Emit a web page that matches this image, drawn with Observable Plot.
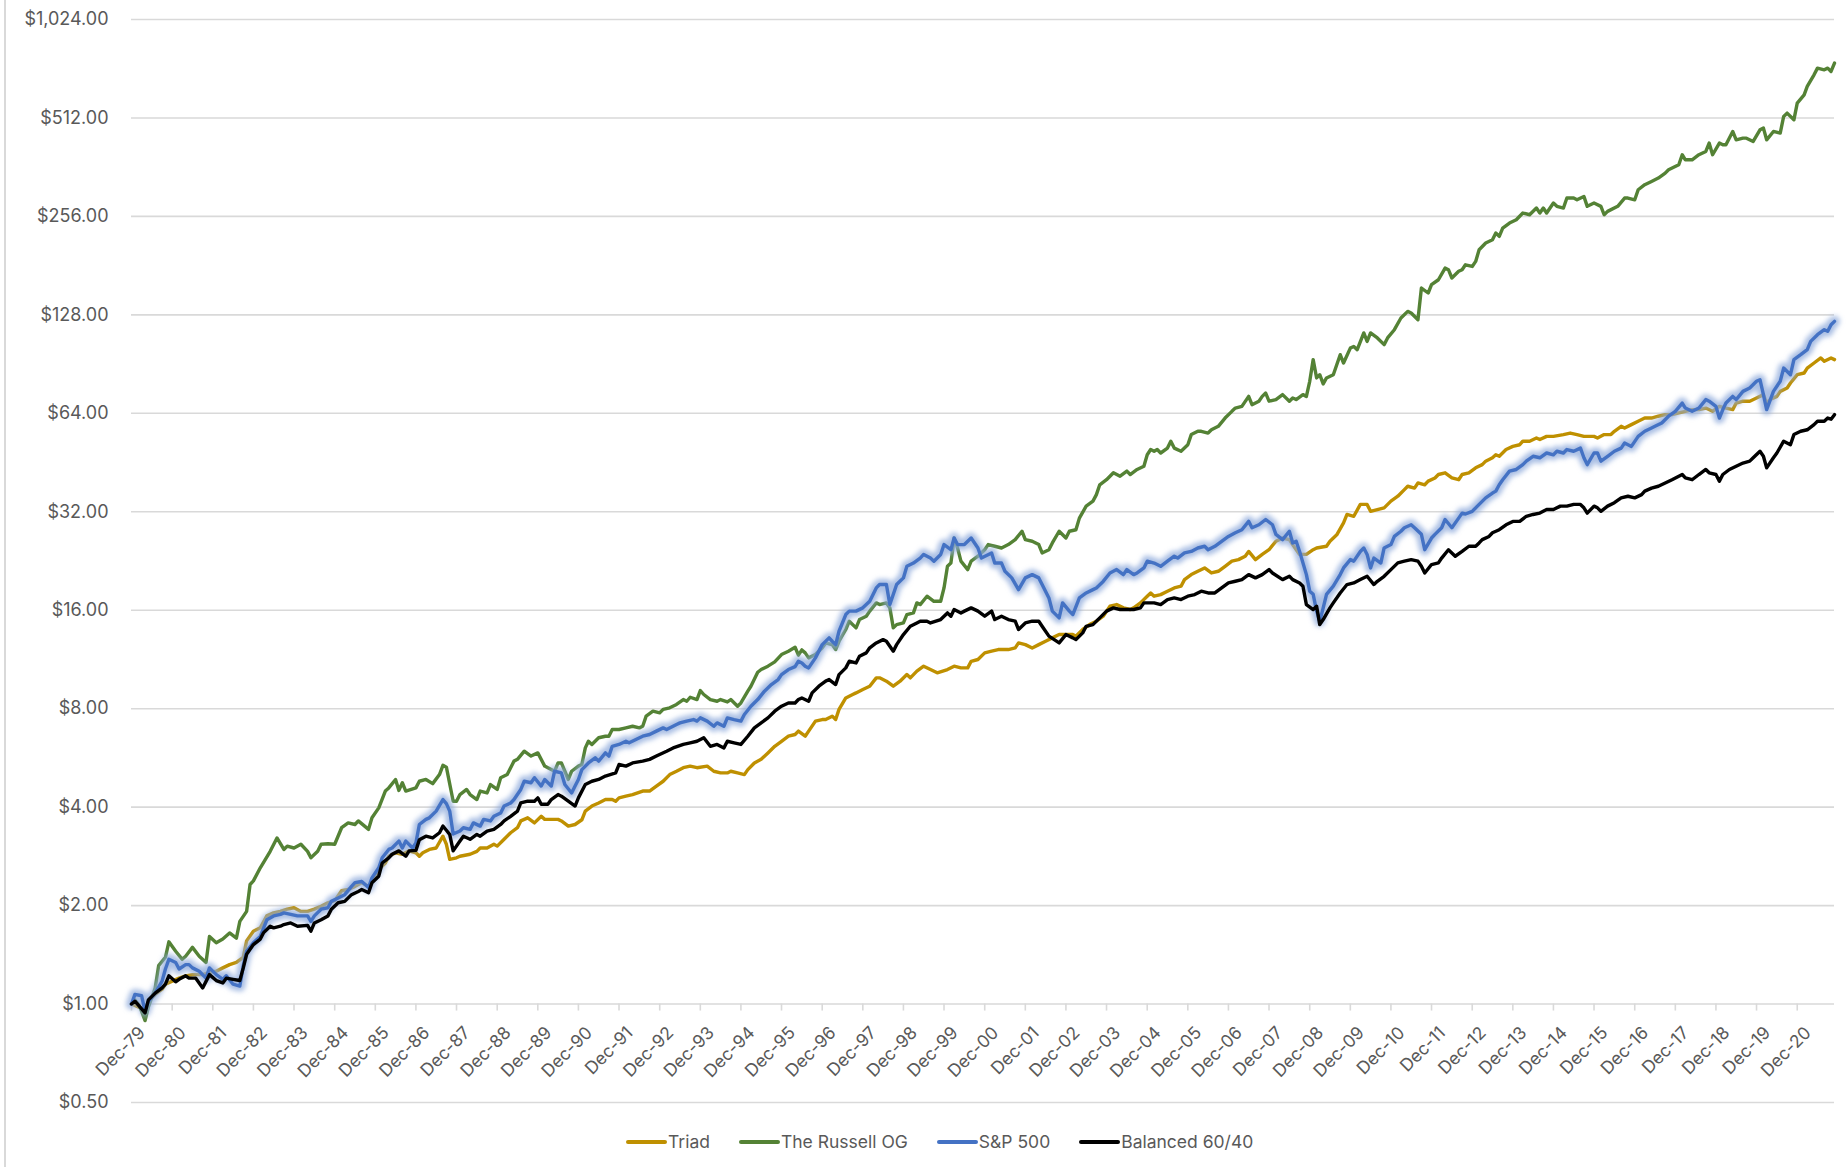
<!DOCTYPE html>
<html>
<head>
<meta charset="utf-8">
<script src="https://cdn.jsdelivr.net/npm/d3@7"></script>
<script src="https://cdn.jsdelivr.net/npm/@observablehq/plot@0.6"></script>
<style>
  body { margin: 0; background: #fff; font-family: Inter, "Noto Sans", sans-serif; }
  #wrap { position: relative; width: 1848px; height: 1167px; overflow: hidden; background: #fff; }
  #wrap::before { content: ""; position: absolute; left: 4px; top: 0; bottom: 0; width: 2px; background: #d9d9d9; }
  #legend { position: absolute; left: 626px; top: 1131px; display: flex; align-items: center; gap: 29px;
            font-size: 17.5px; color: #595959; white-space: nowrap; }
  .item { display: flex; align-items: center; }
  .sw { width: 41px; height: 4px; border-radius: 2px; margin-right: 1px; }
</style>
</head>
<body>
<div id="wrap"><div id="chart"></div><div id="legend"></div></div>
<script>
// Months are counted from Dec-1979 (month 0); values are growth of $1.
const seriesNames = ["Triad", "The Russell OG", "S&P 500", "Balanced 60/40"];
const seriesColors = ["#BF9000", "#548235", "#4472C4", "#000000"];

const triad = [[0,1.00],[4,0.96],[5,1.02],[7,1.07],[9,1.11],[10,1.15],[12,1.175],[14,1.20],[16,1.22],[18,1.23],[19,1.23],[21,1.23],[23,1.25],[25,1.26],[27,1.29],[29,1.32],[31,1.34],[33,1.39],[34,1.56],[36,1.67],[38,1.71],[40,1.86],[42,1.90],[44,1.92],[46,1.95],[48,1.97],[50,1.92],[52,1.92],[54,1.95],[56,1.99],[58,2.04],[60,2.07],[62,2.22],[64,2.24],[66,2.29],[68,2.35],[70,2.29],[72,2.46],[73,2.58],[75,2.70],[76,2.83],[78,2.90],[80,2.87],[82,2.94],[84,2.90],[85,2.83],[86,2.90],[88,2.97],[90,3.00],[92,3.26],[93,3.08],[94,2.77],[96,2.80],
[97,2.83],[100,2.87],[102,2.93],[103,3.0],[105,3.0],[107,3.08],[108,3.04],[110,3.19],[112,3.34],[114,3.46],[115,3.63],[117,3.71],[119,3.58],[121,3.75],[122,3.67],[124,3.67],[126,3.67],[127,3.63],[129,3.50],[131,3.54],[133,3.66],[134,3.89],[136,4.03],[138,4.12],[140,4.22],[142,4.22],[143,4.17],[144,4.27],[146,4.32],[148,4.37],[151,4.48],[153,4.48],[155,4.64],[157,4.80],[159,5.03],[161,5.15],[163,5.28],[165,5.34],[167,5.28],[170,5.34],[172,5.15],[174,5.09],[176,5.09],[177,5.15],[179,5.09],[181,5.03],[182,5.21],[184,5.46],[186,5.60],[188,5.86],[190,6.14],[192,6.36],[194,6.59],[196,6.67],[197,6.83],
[199,6.59],[200,6.83],[202,7.33],[204,7.41],[205,7.41],[207,7.59],[208,7.41],[209,7.96],[211,8.63],[213,8.84],[214,8.94],[216,9.16],[218,9.37],[220,9.94],[221,9.94],[223,9.71],[225,9.37],[227,9.71],[229,10.17],[230,9.94],[232,10.42],[234,10.79],[236,10.54],[238,10.30],[241,10.54],[243,10.79],[245,10.66],[247,10.66],[248,11.17],[250,11.31],[252,11.85],[254,11.99],[256,12.13],[259,12.13],[261,12.27],[262,12.71],[264,12.56],[266,12.27],[268,12.56],[270,12.86],[272,13.17],[274,13.48],[276,13.48],[278,13.48],[279,13.33],[281,13.97],[283,14.46],[285,14.81],[287,15.34],[289,16.46],[291,16.65],[293,16.27],[295,16.08],[296,16.27],[298,16.85],[300,17.66],[301,18.07],
[302,17.66],[304,17.86],[306,18.29],[308,18.72],[310,18.95],[311,19.85],[313,20.56],[315,21.05],[317,21.55],[319,20.8],[321,21.05],[323,21.8],[325,22.6],[327,22.85],[329,23.4],[330,24.2],[332,22.85],[334,23.7],[336,24.5],[338,26.0],[340,26.6],[342,26.3],[343,25.4],[345,23.7],[347,23.7],[349,24.5],[350,24.8],[353,25.1],[354,26.0],[356,27.2],[358,29.6],[359,31.4],[361,31.0],[363,33.7],[365,33.7],[366,32.1],[368,32.5],[370,32.9],[372,34.5],[374,35.7],[376,37.4],[377,38.3],[379,37.8],[380,39.2],[382,38.7],[383,39.7],[385,40.6],[386,41.6],[388,42.1],[390,40.6],[392,40.1],[393,41.6],[395,42.1],[397,43.6],[399,44.6],[400,45.7],[402,46.8],
[403,47.8],[404,47.3],[406,49.6],[408,50.7],[410,51.3],[411,52.6],[413,52.6],[415,53.8],[416,53.2],[418,54.4],[420,54.4],[423,55.1],[425,55.7],[427,55.1],[429,54.4],[432,54.4],[433,53.8],[435,55.1],[437,55.1],[438,56.4],[440,58.4],[441,57.7],[443,59.1],[445,60.5],[447,61.9],[449,61.9],[451,62.7],[453,63.4],[455,63.4],[457,64.2],[459,64.9],[461,65.7],[463,65.7],[465,66.4],[467,64.9],[469,67.2],[471,66.4],[473,65.7],[474,68.8],[476,69.7],[478,69.7],[480,71.3],[482,73.0],[483,68.8],[484,70.5],[486,72.1],[487,74.7],[489,76.5],[490,79.2],[492,84.0],[494,85.0],[495,88.0],[497,91.2],[499,94.5],[500,92.3],[502,94.5],[503,93.4]];

const russell = [[0,1.00],[1,1.03],[2,1.00],[3,0.95],[4,0.89],[5,0.98],[7,1.12],[8,1.31],[10,1.39],[11,1.55],[13,1.45],[15,1.37],[16,1.40],[18,1.49],[20,1.40],[22,1.34],[23,1.61],[25,1.54],[27,1.58],[29,1.65],[31,1.59],[32,1.79],[34,1.92],[35,2.32],[36,2.38],[38,2.61],[41,2.93],[43,3.22],[45,2.97],[46,3.04],[48,3.00],[50,3.08],[52,2.93],[53,2.80],[55,2.93],[56,3.08],[58,3.09],[60,3.08],[62,3.46],[64,3.58],[66,3.54],[67,3.63],[70,3.42],[71,3.71],[73,3.98],[75,4.48],[76,4.58],[78,4.86],[79,4.50],[80,4.75],[81,4.48],[84,4.58],[85,4.80],[87,4.86],[89,4.72],[91,5.03],[92,5.37],[93,5.30],[95,4.17],[96,4.17],
[97,4.37],[99,4.53],[100,4.37],[102,4.22],[103,4.48],[105,4.42],[106,4.69],[108,4.53],[109,4.92],[111,5.03],[113,5.53],[114,5.60],[116,5.93],[118,5.73],[120,5.86],[122,5.34],[123,5.28],[125,5.15],[126,5.46],[127,5.46],[129,4.86],[130,5.15],[132,5.34],[133,5.40],[134,6.07],[135,6.36],[136,6.22],[138,6.52],[140,6.59],[141,6.59],[142,6.91],[144,6.91],[146,6.99],[148,7.07],[150,6.99],[151,7.07],[152,7.59],[154,7.86],[156,7.77],[157,7.96],[159,8.05],[161,8.24],[163,8.53],[164,8.43],[165,8.67],[167,8.53],[168,9.09],[169,8.84],[171,8.53],[173,8.43],[174,8.53],[176,8.39],[177,8.53],[179,8.14],[180,8.33],[182,9.05],[183,9.37],[185,10.34],[186,10.54],[188,10.79],[190,11.12],[192,11.71],[194,11.99],[196,12.33],[197,11.66],
[198,12.1],[199,11.85],[200,11.44],[202,11.71],[204,12.28],[205,12.71],[207,12.56],[208,12.13],[209,12.86],[211,13.97],[212,14.81],[214,14.13],[215,14.98],[217,15.34],[218,15.9],[220,16.85],[221,16.65],[223,16.85],[224,16.27],[225,14.13],[226,14.46],[228,14.63],[229,15.52],[231,15.7],[232,16.85],[233,16.65],[235,17.66],[237,17.04],[239,17.04],[240,18.72],[241,21.8],[242,22.3],[243,26.6],[244,24.8],[245,22.6],[247,21.3],[248,22.6],[250,23.4],[252,24.5],[253,25.4],[255,25.1],[257,24.8],[259,25.4],[261,26.3],[263,27.9],[264,26.3],[266,26.0],[268,25.4],[269,23.95],[271,24.5],[272,25.7],[274,27.9],[276,26.6],[277,27.9],[279,28.2],[280,30.6],[282,33.3],[284,34.5],[285,36.1],[286,38.7],[288,40.1],[290,42.1],[292,41.1],[294,42.6],[295,41.6],[297,43.1],[299,44.1],
[300,47.8],[301,49.6],[302,49.0],[303,49.6],[304,48.4],[306,50.1],[307,52.6],[308,50.1],[310,49.0],[312,51.3],[313,55.1],[315,56.4],[316,56.4],[318,55.7],[319,57.0],[321,58.4],[323,61.9],[325,64.9],[326,66.4],[328,67.2],[330,72.1],[331,68.0],[333,69.7],[334,72.1],[335,73.8],[336,69.7],[338,70.5],[340,73.0],[342,69.7],[343,71.3],[344,70.5],[346,73.0],[347,72.1],[348,80.2],[349,93.4],[350,82.1],[351,84.0],[352,78.7],[353,82.1],[355,84.0],[356,90.1],[357,96.7],[358,91.2],[360,101.3],[361,102.5],[362,100.2],[364,112.7],[365,106.2],[366,112.7],[368,108.8],[370,103.8],[371,108.8],[373,115.3],[375,125.2],[377,131.2],[378,129.7],[380,123.7],[381,154.6],[383,149.3],[384,158.3],[386,163.9],[388,177.9],[389,175.9],[390,165.9],[392,173.9],[393,175.9],[394,182.1],[396,180.0],[397,186.5],[398,202.5],[400,212.2],[402,217.2],
[403,227.7],[404,222.4],[405,235.9],[407,244.3],[409,250.1],[411,262.1],[413,259.0],[415,271.5],[416,262.1],[417,271.5],[418,262.1],[420,281.2],[421,274.8],[423,271.5],[424,291.3],[426,291.3],[427,287.8],[429,294.7],[430,274.8],[432,281.2],[434,274.8],[435,259.0],[436,265.2],[439,274.8],[441,291.3],[442,291.3],[444,287.8],[445,308.9],[447,320.0],[449,327.5],[451,335.3],[453,347.3],[454,355.6],[457,368.3],[458,395.2],[459,381.4],[461,381.4],[463,395.2],[465,404.5],[466,429.0],[467,395.2],[469,429.0],[470,424.0],[471,424.0],[473,465.6],[474,439.0],[476,444.1],[477,444.1],[479,433.9],[481,471.1],[482,476.7],[483,439.0],[485,465.6],[487,460.2],[488,517.4],[489,529.7],[491,505.4],[492,568.5],[494,602.6],[495,639.1],[497,693.6],[498,727.1],[500,718.6],[501,727.1],[502,710.2],[503,753.3]];

const sp500 = [[0,1.00],[1,1.07],[3,1.06],[4,0.95],[5,1.02],[7,1.08],[9,1.175],[10,1.28],[11,1.37],[13,1.34],[14,1.28],[16,1.32],[17,1.32],[18,1.29],[20,1.26],[22,1.20],[23,1.29],[25,1.23],[27,1.19],[28,1.22],[30,1.15],[32,1.135],[33,1.31],[34,1.45],[36,1.54],[38,1.61],[40,1.81],[42,1.86],[44,1.88],[45,1.90],[47,1.88],[49,1.86],[52,1.86],[53,1.79],[54,1.86],[56,1.95],[58,1.97],[59,2.06],[61,2.11],[63,2.16],[65,2.29],[66,2.35],[68,2.37],[70,2.27],[71,2.43],[73,2.61],[74,2.80],[76,2.97],[77,3.00],[79,3.15],[80,3.00],[81,3.15],[83,3.00],[84,3.11],[85,3.54],[87,3.67],[88,3.71],[90,3.89],[92,4.22],[93,4.10],[94,3.89],[95,3.31],
[97,3.38],[98,3.46],[100,3.42],[101,3.58],[103,3.50],[104,3.67],[106,3.63],[107,3.75],[109,3.84],[110,4.03],[112,4.12],[113,4.22],[115,4.53],[116,4.80],[118,4.75],[119,4.92],[121,4.64],[122,4.86],[124,4.64],[125,5.15],[127,5.09],[128,4.69],[130,4.42],[131,4.64],[132,4.86],[133,5.21],[135,5.46],[137,5.66],[138,5.53],[140,5.86],[141,5.73],[142,6.14],[144,6.22],[146,6.36],[147,6.29],[149,6.44],[151,6.59],[153,6.67],[155,6.83],[157,6.99],[158,6.91],[161,7.16],[162,7.24],[164,7.33],[166,7.41],[167,7.33],[168,7.50],[170,7.33],[172,7.07],[173,7.24],[175,7.07],[176,7.50],[178,7.41],[180,7.33],[181,7.68],[183,8.14],[185,8.53],[187,9.05],[189,9.48],[191,9.82],[192,10.17],[194,10.54],[196,10.76],[197,11.17],
[198,11.04],[199,10.79],[200,10.66],[202,11.44],[204,12.56],[206,13.17],[207,12.86],[208,12.56],[209,13.8],[211,15.52],[212,15.9],[214,15.9],[216,16.27],[218,17.04],[220,18.72],[221,19.17],[223,19.17],[224,16.65],[226,19.17],[228,20.09],[229,21.8],[231,22.3],[233,23.1],[234,23.7],[236,23.1],[237,22.6],[239,23.7],[240,25.4],[242,24.5],[243,26.6],[244,25.4],[246,25.4],[248,26.6],[250,24.8],[251,23.1],[254,23.95],[255,22.3],[257,22.3],[258,21.05],[260,20.09],[262,18.5],[264,20.09],[266,20.56],[268,20.09],[269,19.17],[271,17.45],[272,15.9],[274,15.16],[275,16.85],[277,15.9],[278,15.52],[280,17.45],[282,18.07],[284,18.5],[285,18.72],[287,19.6],[289,20.8],[291,21.3],[293,20.56],[294,21.3],[296,20.56],[297,20.8],
[299,21.55],[300,22.6],[302,22.3],[304,21.8],[306,22.6],[308,23.4],[309,23.1],[311,23.95],[313,24.2],[315,24.8],[317,25.1],[318,24.5],[320,25.1],[322,26.0],[324,26.9],[326,27.6],[328,28.2],[330,29.9],[331,28.6],[333,29.2],[335,30.3],[337,29.2],[338,27.3],[340,26.3],[342,27.9],[343,25.7],[344,26.0],[345,24.2],[347,20.56],[348,18.3],[349,17.9],[350,15.9],[351,14.8],[352,16.27],[353,17.9],[355,18.95],[357,20.56],[358,21.55],[360,22.85],[361,22.6],[363,24.2],[364,24.8],[365,23.7],[366,21.55],[367,23.1],[369,22.3],[370,24.8],[372,25.4],[373,26.9],[375,27.9],[376,28.6],[378,29.2],[379,28.6],[381,27.3],[382,24.5],[384,26.6],[385,27.3],[387,28.6],[388,30.3],[390,28.6],[392,30.6],[393,31.7],[394,31.5],[396,32.1],[398,33.7],[400,35.3],[402,36.5],
[403,37.0],[404,38.7],[405,40.1],[407,42.6],[409,43.1],[411,44.6],[412,45.7],[414,47.3],[416,46.8],[418,48.4],[420,47.8],[421,49.0],[423,48.4],[424,49.6],[426,49.0],[428,50.1],[429,46.8],[430,44.6],[432,48.4],[433,48.4],[434,45.7],[436,47.3],[438,49.0],[440,50.1],[441,51.9],[443,50.7],[445,54.4],[447,56.4],[449,57.7],[450,58.4],[452,59.8],[454,62.7],[456,64.9],[458,68.8],[459,66.4],[461,64.9],[463,66.4],[465,70.5],[466,69.7],[468,67.2],[469,61.9],[470,65.7],[471,68.8],[473,72.1],[474,70.5],[476,74.7],[478,76.5],[480,80.2],[481,81.1],[482,73.0],[483,65.7],[485,74.7],[487,80.2],[488,88.0],[490,84.0],[491,93.4],[493,96.7],[495,100.2],[496,106.2],[498,111.3],[500,115.3],[501,114.0],[502,119.4],[503,122.3]];

const balanced = [[0,1.00],[1,1.02],[4,0.94],[5,1.03],[7,1.08],[9,1.12],[10,1.15],[11,1.22],[13,1.17],[14,1.19],[16,1.22],[17,1.20],[19,1.20],[21,1.12],[23,1.23],[25,1.18],[27,1.16],[28,1.20],[30,1.19],[32,1.18],[33,1.29],[34,1.42],[36,1.52],[38,1.58],[39,1.65],[41,1.73],[42,1.71],[44,1.73],[45,1.75],[47,1.77],[49,1.73],[52,1.74],[53,1.67],[54,1.77],[56,1.81],[58,1.86],[59,1.95],[61,2.04],[63,2.06],[65,2.16],[67,2.21],[68,2.24],[70,2.19],[71,2.35],[73,2.46],[74,2.70],[76,2.80],[77,2.87],[79,2.94],[81,2.83],[82,2.94],[84,2.95],[85,3.18],[87,3.26],[89,3.22],[91,3.34],[92,3.50],[93,3.40],[94,3.30],[95,2.94],
[97,3.15],[98,3.26],[100,3.19],[102,3.30],[103,3.26],[105,3.38],[107,3.42],[109,3.54],[110,3.63],[112,3.75],[114,3.89],[115,4.12],[117,4.17],[119,4.17],[120,4.27],[121,4.08],[123,4.08],[124,4.22],[126,4.37],[127,4.32],[129,4.17],[131,4.03],[132,4.27],[134,4.69],[136,4.80],[138,4.86],[140,4.98],[143,5.09],[144,5.40],[146,5.34],[148,5.46],[151,5.53],[153,5.60],[155,5.73],[158,5.93],[160,6.07],[163,6.22],[165,6.29],[167,6.36],[169,6.52],[171,6.14],[173,6.22],[175,6.07],[176,6.36],[178,6.29],[180,6.22],[182,6.59],[184,6.99],[186,7.24],[188,7.50],[190,7.86],[192,8.14],[194,8.33],[196,8.33],[197,8.53],
[198,8.63],[200,8.43],[201,8.94],[203,9.37],[205,9.71],[206,9.82],[208,9.48],[209,10.17],[211,10.66],[212,11.17],[214,11.04],[215,11.57],[217,11.85],[218,12.28],[220,12.71],[222,13.01],[223,12.86],[225,11.99],[226,12.56],[228,13.48],[230,14.29],[232,14.63],[233,14.81],[235,14.81],[236,14.63],[239,14.98],[241,15.7],[242,15.34],[243,16.08],[245,15.7],[246,15.9],[248,16.27],[250,15.9],[252,15.34],[254,15.9],[255,14.98],[257,15.34],[259,14.98],[261,14.81],[262,13.97],[264,14.63],[266,14.81],[268,14.81],[269,14.29],[271,13.33],[274,12.71],[276,13.48],[278,13.17],[279,13.01],[281,13.64],[282,14.29],[284,14.46],[286,15.16],[288,15.9],[290,16.27],[292,16.08],[294,16.08],[296,16.08],[298,16.27],[299,16.85],
[300,16.85],[302,16.85],[304,16.65],[306,17.25],[308,17.45],[310,17.25],[312,17.66],[314,17.86],[316,18.29],[318,18.07],[320,18.07],[322,18.72],[324,19.39],[326,19.62],[328,19.85],[330,20.56],[332,20.09],[334,20.56],[336,21.3],[337,20.8],[340,19.85],[342,20.32],[343,19.85],[345,19.39],[346,18.95],[347,16.65],[349,16.08],[350,16.46],[351,14.46],[352,14.98],[354,16.27],[355,16.85],[357,18.07],[359,19.17],[361,19.39],[363,19.85],[365,20.32],[367,19.17],[368,19.62],[370,20.32],[372,21.3],[374,22.33],[376,22.6],[378,22.85],[380,22.6],[381,21.8],[382,20.8],[384,22.07],[386,22.33],[387,23.1],[389,24.5],[391,23.4],[393,24.2],[395,25.1],[397,25.1],[398,25.7],[399,26.3],[401,26.9],[402,27.6],
[404,28.2],[406,29.2],[408,29.9],[410,29.9],[412,31.0],[414,31.4],[416,31.7],[418,32.5],[420,32.5],[422,33.3],[424,33.3],[426,33.7],[428,33.7],[429,32.9],[430,31.7],[432,33.3],[433,32.9],[434,32.1],[436,33.3],[438,34.1],[440,35.3],[442,35.7],[444,35.3],[446,36.1],[447,37.0],[449,37.8],[451,38.3],[453,39.2],[455,40.1],[458,41.6],[459,40.6],[461,40.1],[463,41.6],[465,43.1],[466,42.1],[468,41.6],[469,39.7],[470,41.6],[472,43.1],[474,44.1],[476,45.1],[478,45.7],[479,46.8],[481,49.0],[482,47.3],[483,43.6],[485,46.8],[486,48.4],[488,52.6],[490,51.3],[491,55.1],[493,56.4],[495,57.0],[497,59.1],[498,60.5],[500,60.5],[501,61.9],[502,61.4],[503,63.4]];

const yTicks = [0.5, 1, 2, 4, 8, 16, 32, 64, 128, 256, 512, 1024];
const xTickLabels = ["Dec-79","Dec-80","Dec-81","Dec-82","Dec-83","Dec-84","Dec-85","Dec-86","Dec-87","Dec-88","Dec-89","Dec-90","Dec-91","Dec-92","Dec-93","Dec-94","Dec-95","Dec-96","Dec-97","Dec-98","Dec-99","Dec-00","Dec-01","Dec-02","Dec-03","Dec-04","Dec-05","Dec-06","Dec-07","Dec-08","Dec-09","Dec-10","Dec-11","Dec-12","Dec-13","Dec-14","Dec-15","Dec-16","Dec-17","Dec-18","Dec-19","Dec-20"];
const lastMonth = 503;

// ---- build ----
const start = new Date(Date.UTC(1979, 11, 1));
const toDate = m => d3.utcMonth.offset(start, m);
const toRows = arr => arr.slice().sort((a, b) => a[0] - b[0]).map(([m, v]) => ({date: toDate(m), value: v}));
const [triadRows, russellRows, spRows, balRows] = [triad, russell, sp500, balanced].map(toRows);
const xTicks = xTickLabels.map((label, i) => ({date: toDate(12 * i), label}));
const fmt = d3.format("$,.2f");
const txt = "#595959";
const grid = "#d9d9d9";
const lw = 3.4;

const chart = Plot.plot({
  width: 1848,
  height: 1122,
  marginLeft: 131,
  marginRight: 14,
  marginTop: 19,
  marginBottom: 20,
  style: {fontFamily: "Inter, 'Noto Sans', sans-serif", background: "transparent", overflow: "visible"},
  x: {type: "utc", domain: [start, toDate(lastMonth)], axis: null},
  y: {type: "log", base: 2, domain: [0.5, 1024], axis: null},
  marks: [
    Plot.ruleY(yTicks, {y: d => d, stroke: grid, strokeWidth: 1.6}),
    Plot.ruleX(xTicks, {x: "date", y1: () => 1, y2: () => 1, insetBottom: -7, stroke: grid, strokeWidth: 1.6}),
    Plot.text(yTicks, {y: d => d, frameAnchor: "left", dx: -23, text: d => fmt(d), textAnchor: "end", fontSize: 18, fill: txt}),
    Plot.text(xTicks, {x: "date", y: () => 1, text: "label", rotate: -45, textAnchor: "end", lineAnchor: "top",
                       dx: 6, dy: 21, fontSize: 17.5, fill: txt}),
    Plot.line(triadRows, {x: "date", y: "value", stroke: seriesColors[0], strokeWidth: lw, strokeLinejoin: "round"}),
    Plot.line(russellRows, {x: "date", y: "value", stroke: seriesColors[1], strokeWidth: lw, strokeLinejoin: "round"}),
    // wide soft halo under the S&P 500 line (glow)
    Plot.line(spRows, {x: "date", y: "value", stroke: "#8eaadb", strokeWidth: 11, strokeOpacity: 0.75, strokeLinejoin: "round"}),
    Plot.line(spRows, {x: "date", y: "value", stroke: seriesColors[2], strokeWidth: lw, strokeLinejoin: "round"}),
    Plot.line(balRows, {x: "date", y: "value", stroke: seriesColors[3], strokeWidth: lw, strokeLinejoin: "round"})
  ]
});

// blur the halo line so it reads as a glow
const ns = "http://www.w3.org/2000/svg";
const defs = document.createElementNS(ns, "defs");
defs.innerHTML = '<filter id="glow" filterUnits="userSpaceOnUse" x="0" y="0" width="1848" height="1122"><feGaussianBlur stdDeviation="2.4"/></filter>';
chart.insertBefore(defs, chart.firstChild);
const lineGroups = chart.querySelectorAll('g[aria-label="line"]');
if (lineGroups.length >= 5) lineGroups[2].setAttribute("filter", "url(#glow)");

document.getElementById("chart").appendChild(chart);

const legend = document.getElementById("legend");
seriesNames.forEach((name, i) => {
  const item = document.createElement("div");
  item.className = "item";
  item.innerHTML = `<span class="sw" style="background:${seriesColors[i]}"></span><span>${name}</span>`;
  legend.appendChild(item);
});
</script>
</body>
</html>
